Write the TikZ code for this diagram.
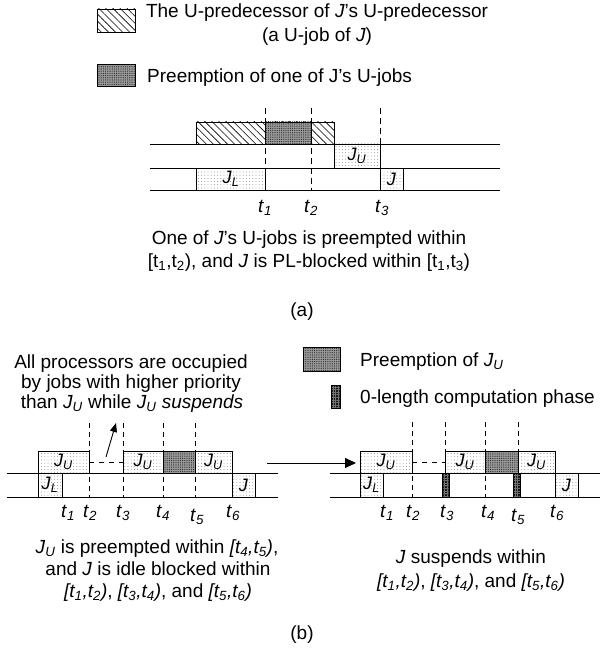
\documentclass[tikz,border=0pt]{standalone}
\usepackage{fontspec}
\setmainfont{Liberation Sans}
\usetikzlibrary{patterns.meta,arrows.meta}
% italic symbol with italic subscript, e.g. J_U, t_1
\newcommand\isub[2]{\textit{#1}\textsubscript{\textit{#2}}}
% upright symbol with upright subscript
\newcommand\usub[2]{#1\textsubscript{#2}}

\begin{document}
\begin{tikzpicture}[x=1pt,y=-1pt,
  every node/.style={inner sep=0pt, font=\fontsize{19}{23}\selectfont},
  axis/.style={line width=0.8pt},
  tickA/.style={line width=0.8pt, dash pattern=on 6pt off 4pt},
  tickB/.style={line width=0.8pt, dash pattern=on 5pt off 4pt},
  idle/.style={line width=0.8pt, dash pattern=on 5pt off 5pt},
  jobbox/.style={draw, line width=0.8pt, pattern={Dots[distance=3.2pt,radius=0.45pt]}, pattern color=black!55},
  preempt/.style={draw, line width=0.8pt, preaction={fill=black!40}, pattern={Dots[distance=2.2pt,radius=0.6pt]}, pattern color=black!85},
  upred/.style={draw, line width=0.8pt, pattern={Lines[angle=-45,distance=5pt,line width=0.6pt]}},
  zerophase/.style={draw, line width=0.6pt, preaction={fill=black!90}, pattern={Hatch[angle=0,distance=2.6pt,line width=0.35pt]}, pattern color=black!55},
  joblabel/.style={font=\fontsize{18}{21}\selectfont},
  pointer/.style={line width=0.9pt, -{Triangle[length=9pt,width=7pt]}},
  bigpointer/.style={line width=0.9pt, -{Triangle[length=11pt,width=10pt]}},
]
\useasboundingbox (0,0) rectangle (600,652);

% ---------------- (a) ----------------
% legend
\path[upred] (97,9) rectangle (135,32);
\node[anchor=base] (lgUa) at (317,18) {The U-predecessor of \textit{J}’s U-predecessor};
\node[anchor=base] (lgUb) at (317,42) {(a U-job of \textit{J})};
\path[preempt] (97,64) rectangle (135,86);
\node[anchor=base west] (lgP) at (147,83) {Preemption of one of J’s U-jobs};

% time instants
\draw[tickA] (265,108) -- (265,190);
\draw[tickA] (311,108) -- (311,190);
\draw[tickA] (380,108) -- (380,190);

% processor rows
\draw[axis] (150,144) -- (500,144);
\draw[axis] (150,168) -- (500,168);
\draw[axis] (150,190) -- (500,190);

% schedule
\path[upred] (196,122) rectangle (334,144);
\path[preempt] (265,122) rectangle (311,144);
\path[jobbox] (334,144) rectangle (380,168);
\node[joblabel] (aJU) at (357,156) {\isub{J}{U}};
\path[jobbox] (196,168) rectangle (265,190);
\node[joblabel] (aJL) at (231,179) {\isub{J}{L}};
\path[jobbox] (380,168) rectangle (403,190);
\node[joblabel] (aJ) at (391.5,179) {\textit{J}};

\node[anchor=base] (at1) at (265,212) {\isub{t}{1}};
\node[anchor=base] (at2) at (311,212) {\isub{t}{2}};
\node[anchor=base] (at3) at (382,212) {\isub{t}{3}};

\node[anchor=base] (acap1) at (309,244) {One of \textit{J}’s U-jobs is preempted within};
\node[anchor=base] (acap2) at (309,267) {[\usub{t}{1},\usub{t}{2}), and \textit{J} is PL-blocked within [\usub{t}{1},\usub{t}{3})};
\node[anchor=base] (alabel) at (302,316) {(a)};

% ---------------- (b) ----------------
\node[anchor=base] (note1) at (131,368) {All processors are occupied};
\node[anchor=base] (note2) at (131,388) {by jobs with higher priority};
\node[anchor=base] (note3) at (132,408) {than \isub{J}{U} while \isub{J}{U} \textit{suspends}};
\coordinate (noteTail) at (106,457);
\coordinate (noteHead) at (116,423);
\draw[pointer] (noteTail) -- (noteHead);

% legend
\path[preempt] (303,347) rectangle (340,371);
\node[anchor=base west] (lgPU) at (360,366) {Preemption of \isub{J}{U}};
\path[zerophase] (331,385) rectangle (340,408);
\node[anchor=base west] (lgZ) at (360,403) {0-length computation phase};

% left schedule
\foreach \x in {89,123,163,195} \draw[tickB] (\x,423) -- (\x,497);
\draw[axis] (7,473) -- (278,473);
\draw[axis] (7,497) -- (278,497);
\path[jobbox] (38,451) rectangle (89,473);
\node[joblabel] (lJU1) at (63.5,462) {\isub{J}{U}};
\draw[idle] (89,462) -- (123,462);
\path[jobbox] (123,451) rectangle (163,473);
\node[joblabel] (lJU2) at (143,462) {\isub{J}{U}};
\path[preempt] (163,451) rectangle (195,473);
\path[jobbox] (195,451) rectangle (232,473);
\node[joblabel] (lJU3) at (213.5,462) {\isub{J}{U}};
\path[jobbox] (38,473) rectangle (62,497);
\node[joblabel] (lJL) at (50,485) {\isub{J}{L}};
\path[jobbox] (232,473) rectangle (255,497);
\node[joblabel] (lJ) at (243.5,485) {\textit{J}};

\node[anchor=base] (lt1) at (68,517) {\isub{t}{1}};
\node[anchor=base] (lt2) at (90,517) {\isub{t}{2}};
\node[anchor=base] (lt3) at (123,517) {\isub{t}{3}};
\node[anchor=base] (lt4) at (163,517) {\isub{t}{4}};
\node[anchor=base] (lt5) at (197,521) {\isub{t}{5}};
\node[anchor=base] (lt6) at (233,517) {\isub{t}{6}};

\node[anchor=base] (lcap1) at (157,553) {\isub{J}{U} is preempted within \textit{[\usub{t}{4},\usub{t}{5})},};
\node[anchor=base] (lcap2) at (158,575) {and \textit{J} is idle blocked within};
\node[anchor=base] (lcap3) at (158,597) {\textit{[\usub{t}{1},\usub{t}{2})}, \textit{[\usub{t}{3},\usub{t}{4})}, and \textit{[\usub{t}{5},\usub{t}{6})}};

% transformation arrow
\coordinate (bigTail) at (267,463);
\coordinate (bigHead) at (356,463);
\draw[bigpointer] (bigTail) -- (bigHead);

% right schedule
\foreach \x in {412,445,485,518} \draw[tickB] (\x,422) -- (\x,497);
\draw[axis] (330,473) -- (600,473);
\draw[axis] (330,497) -- (600,497);
\path[jobbox] (360,451) rectangle (412,473);
\node[joblabel] (rJU1) at (386,462) {\isub{J}{U}};
\draw[idle] (412,462) -- (445,462);
\path[jobbox] (445,451) rectangle (485,473);
\node[joblabel] (rJU2) at (465,462) {\isub{J}{U}};
\path[preempt] (485,451) rectangle (518,473);
\path[jobbox] (518,451) rectangle (555,473);
\node[joblabel] (rJU3) at (536.5,462) {\isub{J}{U}};
\path[jobbox] (360,473) rectangle (383,497);
\node[joblabel] (rJL) at (371.5,485) {\isub{J}{L}};
\path[jobbox] (555,473) rectangle (578,497);
\node[joblabel] (rJ) at (566.5,485) {\textit{J}};
\path[zerophase] (442,473) rectangle (449,497);
\path[zerophase] (513,473) rectangle (520,497);

\node[anchor=base] (rt1) at (387,517) {\isub{t}{1}};
\node[anchor=base] (rt2) at (413,517) {\isub{t}{2}};
\node[anchor=base] (rt3) at (447,517) {\isub{t}{3}};
\node[anchor=base] (rt4) at (488,517) {\isub{t}{4}};
\node[anchor=base] (rt5) at (518,521) {\isub{t}{5}};
\node[anchor=base] (rt6) at (557,517) {\isub{t}{6}};

\node[anchor=base] (rcap1) at (471,563) {\textit{J} suspends within};
\node[anchor=base] (rcap2) at (471,587) {\textit{[\usub{t}{1},\usub{t}{2})}, \textit{[\usub{t}{3},\usub{t}{4})}, and \textit{[\usub{t}{5},\usub{t}{6})}};

\node[anchor=base] (blabel) at (302,639) {(b)};
\end{tikzpicture}
\end{document}
